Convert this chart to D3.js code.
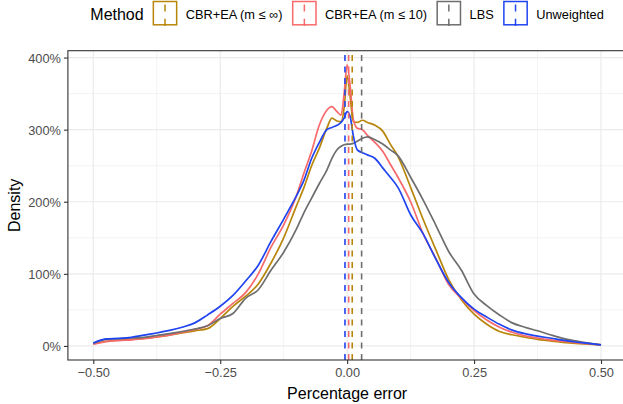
<!DOCTYPE html>
<html>
<head>
<meta charset="utf-8">
<script src="https://cdn.jsdelivr.net/npm/d3@7"></script>
<style>
  body { margin: 0; background: #fff; }
  svg { font-family: "Liberation Sans", Arial, sans-serif; display: block; }
</style>
</head>
<body>
<div id="chart"></div>
<script>
// percentage error grid shared by all four density curves
const xs = [-0.5, -0.475, -0.45, -0.425, -0.4, -0.375, -0.35, -0.325, -0.3, -0.275,
    -0.25, -0.225, -0.2, -0.175, -0.15, -0.125, -0.1, -0.085, -0.07, -0.055,
    -0.04, -0.03, -0.02, -0.012, -0.006, 0, 0.006, 0.012, 0.02, 0.03,
    0.04, 0.055, 0.07, 0.085, 0.1, 0.125, 0.15, 0.175, 0.2, 0.225,
    0.25, 0.275, 0.3, 0.325, 0.35, 0.375, 0.4, 0.425, 0.45, 0.475, 0.5];

const methods = ["CBR+EA (m \u2264 \u221e)", "CBR+EA (m \u2264 10)", "LBS", "Unweighted"];

const densInf = [0.03, 0.065, 0.08, 0.09, 0.105, 0.125, 0.15, 0.18, 0.21, 0.24,
    0.38, 0.55, 0.69, 0.86, 1.15, 1.5, 1.94, 2.2, 2.5, 2.74,
    3.02, 3.16, 3.12, 3.11, 3.3, 3.75, 3.45, 3.11, 3.1, 3.13,
    3.1, 3.06, 2.98, 2.8, 2.63, 2.2, 1.75, 1.33, 0.92, 0.64,
    0.44, 0.3, 0.2, 0.155, 0.12, 0.09, 0.07, 0.05, 0.035, 0.025, 0.015];

const dens10 = [0.025, 0.06, 0.075, 0.085, 0.1, 0.125, 0.15, 0.19, 0.23, 0.28,
    0.44, 0.59, 0.74, 1.0, 1.37, 1.68, 2.08, 2.4, 2.7, 3.06,
    3.27, 3.32, 3.25, 3.2, 3.5, 3.9, 3.6, 3.15, 3.02, 3.0,
    2.92, 2.82, 2.7, 2.52, 2.34, 2.0, 1.55, 1.21, 0.85, 0.66,
    0.49, 0.36, 0.26, 0.19, 0.14, 0.11, 0.085, 0.065, 0.045, 0.03, 0.015];

const densLBS = [0.035, 0.09, 0.1, 0.11, 0.12, 0.145, 0.17, 0.2, 0.235, 0.28,
    0.38, 0.45, 0.66, 0.78, 1.05, 1.3, 1.62, 1.85, 2.05, 2.25,
    2.44, 2.6, 2.72, 2.77, 2.79, 2.8, 2.8, 2.81, 2.84, 2.88,
    2.9, 2.86, 2.8, 2.72, 2.64, 2.34, 2.02, 1.67, 1.31, 1.05,
    0.72, 0.56, 0.43, 0.32, 0.26, 0.21, 0.155, 0.105, 0.07, 0.04, 0.015];

const densUnw = [0.04, 0.097, 0.105, 0.12, 0.15, 0.18, 0.215, 0.26, 0.32, 0.43,
    0.55, 0.7, 0.9, 1.12, 1.45, 1.76, 2.08, 2.3, 2.6, 2.82,
    3.0, 3.03, 3.06, 3.1, 3.16, 3.25, 3.18, 2.92, 2.72, 2.68,
    2.65, 2.6, 2.47, 2.34, 2.2, 1.82, 1.55, 1.2, 0.88, 0.67,
    0.51, 0.4, 0.3, 0.22, 0.17, 0.135, 0.11, 0.08, 0.055, 0.035, 0.015];

// mean percentage error of each method (dashed lines)
const means = [0.010, 0.003, 0.0285, -0.0043];

const xTicks = [-0.5, -0.25, 0, 0.25, 0.5];
const xMinor = [-0.375, -0.125, 0.125, 0.375];
const yTicks = [0, 1, 2, 3, 4];
const yMinor = [0.5, 1.5, 2.5, 3.5];

const colors = ["#B8860B", "#F8696B", "#6E6E6E", "#1F44F0"];
const seriesValues = [densInf, dens10, densLBS, densUnw];

const W = 623, H = 404;
const panel = { left: 67.9, right: 626.4, top: 50.7, bottom: 360 };

const svg = d3.select("#chart").append("svg")
    .attr("width", W)
    .attr("height", H);

const x = d3.scaleLinear().domain([-0.55, 0.55]).range([panel.left, panel.right]);
const y = d3.scaleLinear().domain([-0.195, 4.095]).range([panel.bottom, panel.top]);

// clip to the panel
svg.append("clipPath").attr("id", "clip")
    .append("rect")
    .attr("x", panel.left).attr("y", panel.top)
    .attr("width", panel.right - panel.left)
    .attr("height", panel.bottom - panel.top);

const grid = svg.append("g");

// minor grid
grid.selectAll(".xminor").data(xMinor).enter().append("line")
    .attr("x1", d => x(d)).attr("x2", d => x(d))
    .attr("y1", panel.top).attr("y2", panel.bottom)
    .attr("stroke", "#EBEBEB").attr("stroke-width", 0.6);
grid.selectAll(".yminor").data(yMinor).enter().append("line")
    .attr("x1", panel.left).attr("x2", panel.right)
    .attr("y1", d => y(d)).attr("y2", d => y(d))
    .attr("stroke", "#EBEBEB").attr("stroke-width", 0.6);

// major grid
grid.selectAll(".xmajor").data(xTicks).enter().append("line")
    .attr("x1", d => x(d)).attr("x2", d => x(d))
    .attr("y1", panel.top).attr("y2", panel.bottom)
    .attr("stroke", "#EBEBEB").attr("stroke-width", 1.2);
grid.selectAll(".ymajor").data(yTicks).enter().append("line")
    .attr("x1", panel.left).attr("x2", panel.right)
    .attr("y1", d => y(d)).attr("y2", d => y(d))
    .attr("stroke", "#EBEBEB").attr("stroke-width", 1.2);

// density curves
const line = d3.line()
    .x(d => x(d[0]))
    .y(d => y(d[1]))
    .curve(d3.curveMonotoneX);

const curves = svg.append("g").attr("clip-path", "url(#clip)");
seriesValues.forEach((vals, i) => {
    curves.append("path")
        .datum(xs.map((v, j) => [v, vals[j]]))
        .attr("d", line)
        .attr("fill", "none")
        .attr("stroke", colors[i])
        .attr("stroke-width", 1.7);
});

// mean lines
curves.selectAll(".mean").data(means).enter().append("line")
    .attr("x1", d => x(d)).attr("x2", d => x(d))
    .attr("y1", panel.bottom).attr("y2", panel.top)
    .attr("stroke", (d, i) => colors[i])
    .attr("stroke-width", 1.6)
    .attr("stroke-dasharray", "6,5.5");

// panel border
svg.append("rect")
    .attr("x", panel.left).attr("y", panel.top)
    .attr("width", panel.right - panel.left)
    .attr("height", panel.bottom - panel.top)
    .attr("fill", "none")
    .attr("stroke", "#333333")
    .attr("stroke-width", 1.1);

// axes
const xAxis = svg.append("g")
    .attr("transform", `translate(0,${panel.bottom})`)
    .call(d3.axisBottom(x).tickValues(xTicks).tickSize(4).tickPadding(4)
        .tickFormat(d3.format(".2f")));
const yAxis = svg.append("g")
    .attr("transform", `translate(${panel.left},0)`)
    .call(d3.axisLeft(y).tickValues(yTicks).tickSize(4).tickPadding(3)
        .tickFormat(d => Math.round(d * 100) + "%"));

[xAxis, yAxis].forEach(ax => {
    ax.select(".domain").remove();
    ax.selectAll(".tick line").attr("stroke", "#333333").attr("stroke-width", 1.1);
    ax.selectAll(".tick text")
        .attr("fill", "#4D4D4D")
        .style("font-size", "12.8px")
        .style("font-family", "'Liberation Sans', Arial, sans-serif");
});
xAxis.selectAll(".tick text").attr("y", 0).attr("dy", null)
    .attr("transform", "translate(0,17.3)");
yAxis.selectAll(".tick text").attr("dy", "0.36em");

// axis titles
svg.append("text")
    .attr("x", (panel.left + panel.right) / 2)
    .attr("y", 399)
    .attr("text-anchor", "middle")
    .style("font-size", "16px")
    .text("Percentage error");

svg.append("text")
    .attr("transform", `translate(20,${(panel.top + panel.bottom) / 2}) rotate(-90)`)
    .attr("text-anchor", "middle")
    .style("font-size", "16px")
    .text("Density");

// legend
const legend = svg.append("g");
legend.append("text")
    .attr("x", 90.3).attr("y", 19.5)
    .style("font-size", "16px")
    .text("Method");

const keySize = 24.8;
let lx = 152.6;
methods.forEach((m, i) => {
    const g = legend.append("g");
    g.append("rect")
        .attr("x", lx + 0.75).attr("y", 1.5)
        .attr("width", keySize - 1.5).attr("height", keySize - 1.5)
        .attr("fill", "#fff")
        .attr("stroke", colors[i])
        .attr("stroke-width", 1.5);
    g.append("line")
        .attr("x1", lx + keySize / 2).attr("x2", lx + keySize / 2)
        .attr("y1", 26).attr("y2", 1)
        .attr("stroke", colors[i])
        .attr("stroke-width", 1.5)
        .attr("stroke-dasharray", "7.2,7.2");
    const t = g.append("text")
        .attr("x", lx + keySize + 8.3).attr("y", 19)
        .style("font-size", "12.8px")
        .text(m);
    lx += keySize + 8.3 + t.node().getComputedTextLength() + 9.4;
});
</script>
</body>
</html>
